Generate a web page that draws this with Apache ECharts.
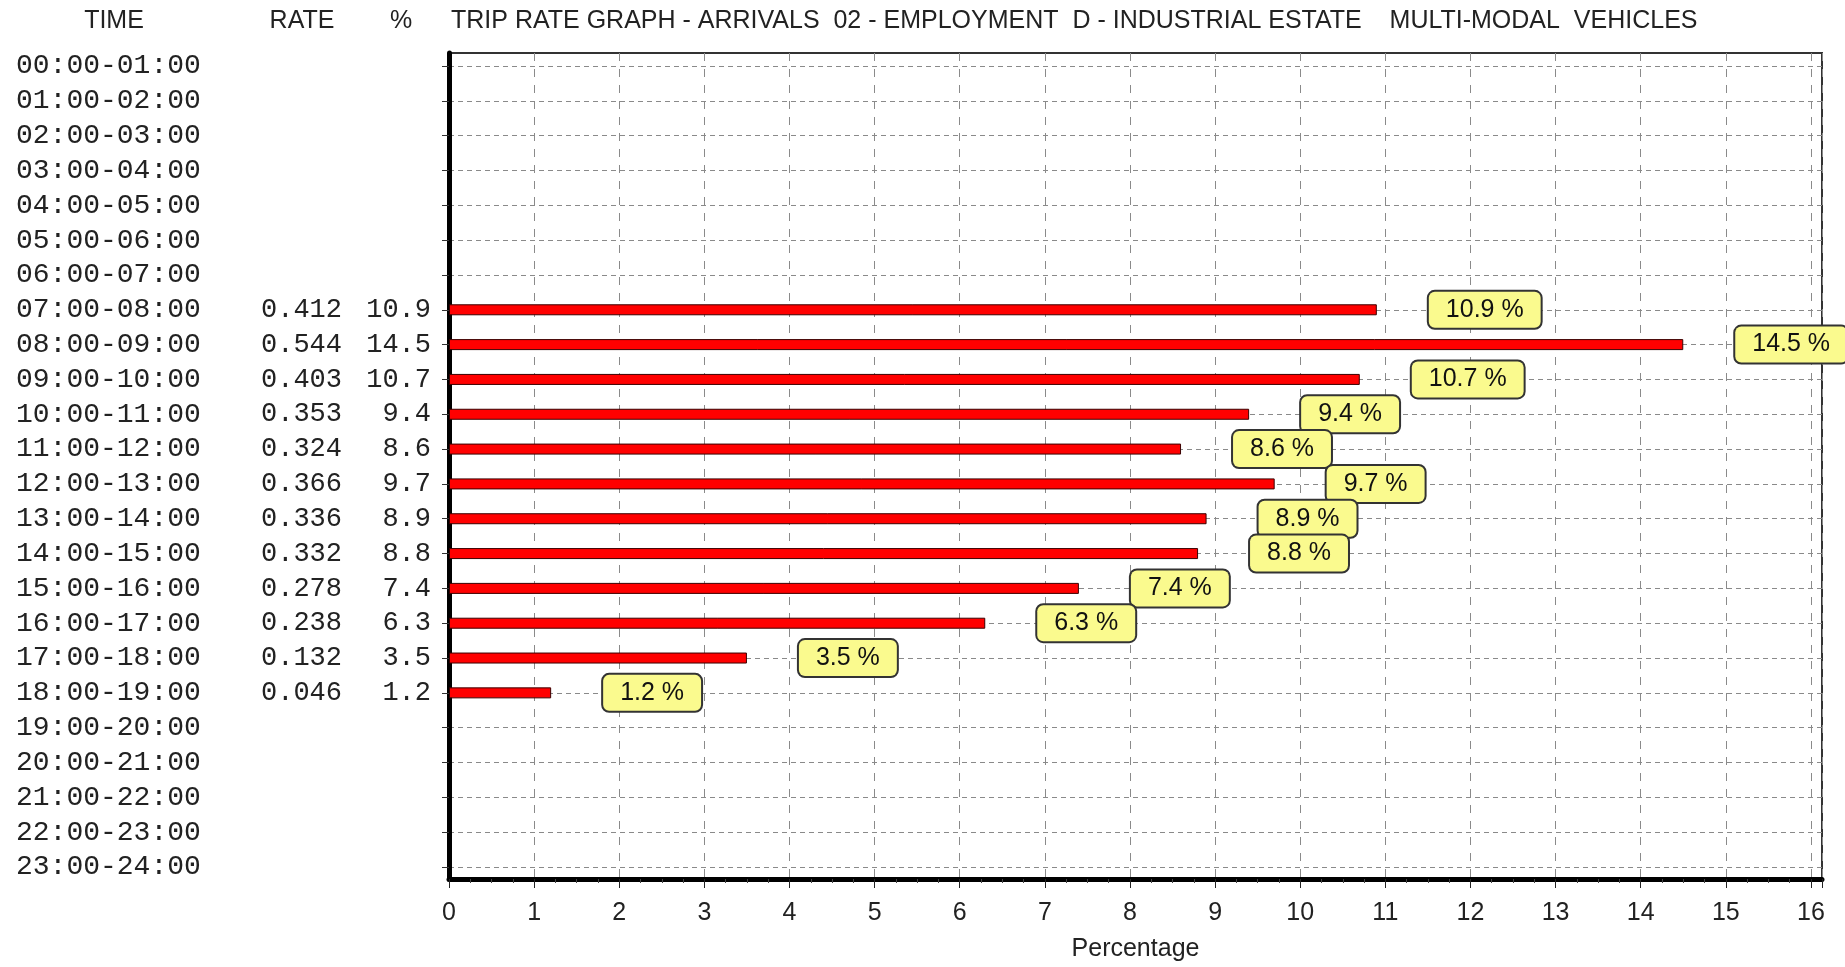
<!DOCTYPE html>
<html>
<head>
<meta charset="utf-8">
<script src="https://cdn.jsdelivr.net/npm/echarts@6/dist/echarts.min.js"></script>
<style>
html,body{margin:0;padding:0;background:#fff;}
#c{width:1845px;height:967px;}
</style>
</head>
<body>
<div id="c"></div>
<script>
const times = ['00:00-01:00','01:00-02:00','02:00-03:00','03:00-04:00','04:00-05:00','05:00-06:00',
  '06:00-07:00','07:00-08:00','08:00-09:00','09:00-10:00','10:00-11:00','11:00-12:00',
  '12:00-13:00','13:00-14:00','14:00-15:00','15:00-16:00','16:00-17:00','17:00-18:00',
  '18:00-19:00','19:00-20:00','20:00-21:00','21:00-22:00','22:00-23:00','23:00-24:00'];
const rates = [null,null,null,null,null,null,null,0.412,0.544,0.403,0.353,0.324,0.366,0.336,0.332,0.278,0.238,0.132,0.046,null,null,null,null,null];
const percents = [null,null,null,null,null,null,null,10.9,14.5,10.7,9.4,8.6,9.7,8.9,8.8,7.4,6.3,3.5,1.2,null,null,null,null,null];
const xTicks = [0,1,2,3,4,5,6,7,8,9,10,11,12,13,14,15,16];
const titleText = 'TRIP RATE GRAPH - ARRIVALS  02 - EMPLOYMENT  D - INDUSTRIAL ESTATE    MULTI-MODAL  VEHICLES';
const xName = 'Percentage';

const sans = "'Liberation Sans', Arial, sans-serif";
const mono = "'Liberation Mono', 'DejaVu Sans Mono', monospace";
const X_MAX = 16.13;

const chart = echarts.init(document.getElementById('c'), null, {renderer: 'canvas'});
const rowLabel = (v, i) => {
  let s = '{t|' + v + '}';
  if (rates[i] != null) s += '{r|' + rates[i].toFixed(3) + '}{p|' + percents[i].toFixed(1) + '}';
  return s;
};
const hdr = (text, x, align) => ({type: 'text', x: x, y: 21,
  style: {text: text, font: '25px ' + sans, fill: '#222', textAlign: align, textVerticalAlign: 'middle'}});
chart.setOption({
  animation: false,
  backgroundColor: '#ffffff',
  graphic: [
    hdr('TIME', 114, 'center'),
    hdr('RATE', 302, 'center'),
    hdr('%', 401, 'center'),
    hdr(titleText, 451, 'left')
  ],
  grid: [
    {left: 449, right: 23, top: 66, bottom: 100, show: false},
    {left: 449, right: 23, top: 53, bottom: 86, show: true, borderColor: '#333', borderWidth: 2, backgroundColor: 'transparent', z: 0}
  ],
  xAxis: [
    {gridIndex: 0, type: 'value', min: 0, max: X_MAX, show: false},
    {gridIndex: 1, type: 'value', min: 0, max: X_MAX, interval: 1,
     axisLine: {show: true, onZero: false, lineStyle: {color: '#000', width: 5}},
     axisTick: {show: true, length: 9, lineStyle: {color: '#222', width: 1}},
     minorTick: {show: true, splitNumber: 4, length: 4, lineStyle: {color: '#444'}},
     splitLine: {show: true, lineStyle: {color: '#8a8a8a', type: [8, 8], width: 1}},
     axisLabel: {margin: 22, color: '#222', fontFamily: sans, fontSize: 25,
       formatter: v => xTicks.indexOf(v) >= 0 ? String(v) : ''},
     name: xName, nameLocation: 'middle', nameGap: 58,
     nameTextStyle: {color: '#222', fontFamily: sans, fontSize: 25}}
  ],
  yAxis: [
    {gridIndex: 0, type: 'category', data: times, inverse: true, boundaryGap: false,
     axisLine: {show: false},
     axisTick: {show: true, length: 7, lineStyle: {color: '#333'}},
     splitLine: {show: true, lineStyle: {color: '#8a8a8a', type: [5, 4], width: 1}},
     axisLabel: {show: true, interval: 0, align: 'left', margin: 433, color: '#222',
       formatter: rowLabel,
       rich: {
         t: {width: 243, align: 'left', fontFamily: mono, fontSize: 28, color: '#222'},
         r: {width: 83, align: 'right', fontFamily: mono, fontSize: 27, color: '#222'},
         p: {width: 89, align: 'right', fontFamily: mono, fontSize: 27, color: '#222'}
       }}},
    {gridIndex: 1, type: 'value', min: 0, max: 1, show: true,
     axisLine: {show: true, onZero: false, lineStyle: {color: '#000', width: 5}},
     axisTick: {show: false}, axisLabel: {show: false}, splitLine: {show: false}}
  ],
  series: [{
    type: 'bar', xAxisIndex: 0, yAxisIndex: 0, data: percents, barWidth: 11,
    itemStyle: {color: '#ff0000', borderColor: '#3a0000', borderWidth: 1},
    z: 5,
    label: {
      show: true, position: 'right', distance: 52,
      formatter: p => p.value == null ? '' : p.value.toFixed(1) + ' %',
      fontFamily: sans, fontSize: 25, color: '#111',
      backgroundColor: '#fafa8e', borderColor: '#333', borderWidth: 2, borderRadius: 6,
      padding: [6, 17, 6, 17], lineHeight: 24
    }
  }]
});
</script>
</body>
</html>
